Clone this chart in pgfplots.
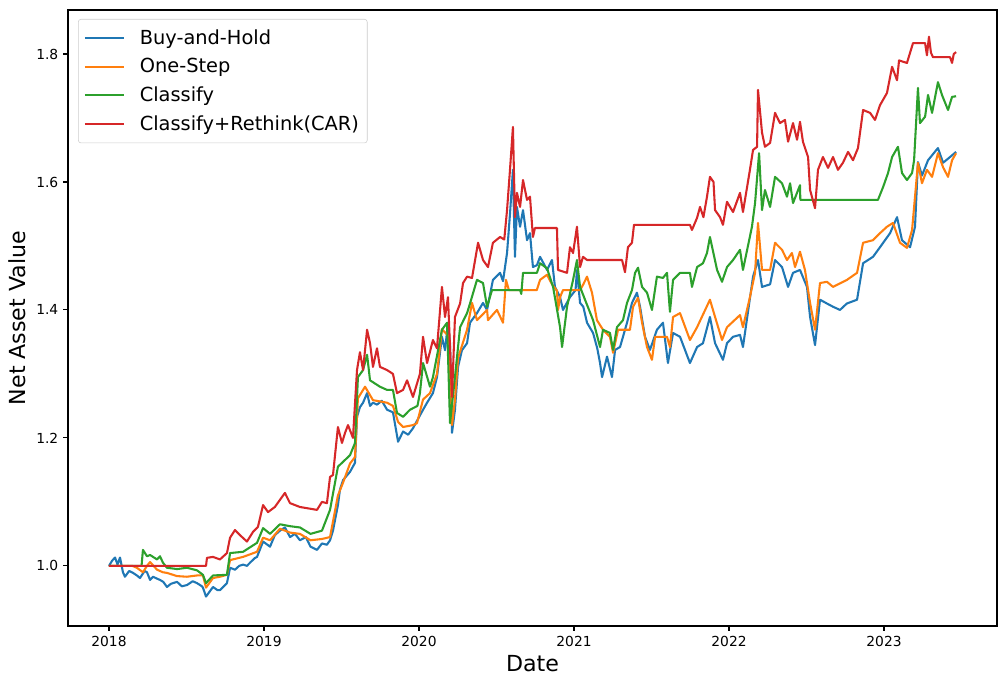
\documentclass[border=0pt]{standalone}
\usepackage{fontspec}
\setmainfont{DejaVu Sans}
\usepackage{pgfplots}
\pgfplotsset{compat=1.18}
\definecolor{c0}{HTML}{1F77B4}
\definecolor{c1}{HTML}{FF7F0E}
\definecolor{c2}{HTML}{2CA02C}
\definecolor{c3}{HTML}{D62728}
\begin{document}
\begin{tikzpicture}
\begin{axis}[
  scale only axis,
  width=9.29in, height=6.16in,
  xmin=2017.7355, xmax=2023.729,
  ymin=0.906, ymax=1.8688,
  xtick={2018,2019,2020,2021,2022,2023},
  ytick={1.0,1.2,1.4,1.6,1.8},
  /pgf/number format/assume math mode=true,
  xticklabel style={/pgf/number format/1000 sep={}, font=\fontsize{10}{12}\selectfont},
  yticklabel style={/pgf/number format/fixed, /pgf/number format/fixed zerofill, /pgf/number format/precision=1, font=\fontsize{10}{12}\selectfont},
  tick align=outside, tick pos=left,
  major tick length=3.5pt,
  axis line style={line width=0.8pt},
  every tick/.style={line width=0.8pt, black},
  xlabel={Date}, ylabel={Net Asset Value},
  label style={font=\fontsize{16}{19}\selectfont},
  xlabel style={yshift=0.5pt},
  ylabel style={yshift=1pt},
  legend style={at={(0.0108,0.9854)}, anchor=north west, draw=black!20, rounded corners=2pt, fill=white, fill opacity=0.8, text opacity=1, font=\fontsize{14}{17}\selectfont, row sep=4.7pt, inner xsep=4pt, inner ysep=5.5pt, /tikz/every odd column/.append style={column sep=8.5pt}},
  legend cell align=left,
  legend image code/.code={\draw[#1] (0cm,0cm) -- (1.0cm,0cm);},
  every axis plot/.append style={line width=1.5pt, line join=round},
]
\addplot[c0] coordinates {
(2018.000,1.000)(2018.020,1.008)(2018.039,1.013)(2018.055,1.002)(2018.071,1.013)(2018.090,0.990)(2018.103,0.983)(2018.130,0.992)(2018.155,0.989)(2018.180,0.985)(2018.200,0.981)(2018.230,0.992)(2018.245,0.990)(2018.265,0.978)(2018.284,0.983)(2018.310,0.980)(2018.329,0.978)(2018.350,0.975)(2018.374,0.967)(2018.400,0.972)(2018.439,0.975)(2018.470,0.968)(2018.503,0.970)(2018.540,0.976)(2018.568,0.973)(2018.600,0.968)(2018.606,0.966)(2018.626,0.952)(2018.650,0.960)(2018.671,0.967)(2018.700,0.962)(2018.716,0.962)(2018.740,0.968)(2018.761,0.973)(2018.781,0.997)(2018.813,0.994)(2018.840,1.000)(2018.865,1.002)(2018.890,1.000)(2018.910,1.005)(2018.940,1.012)(2018.955,1.014)(2018.994,1.038)(2019.039,1.030)(2019.070,1.048)(2019.103,1.055)(2019.135,1.060)(2019.168,1.045)(2019.200,1.050)(2019.232,1.040)(2019.270,1.045)(2019.300,1.030)(2019.342,1.025)(2019.374,1.035)(2019.406,1.033)(2019.426,1.040)(2019.445,1.055)(2019.477,1.095)(2019.490,1.119)(2019.510,1.134)(2019.555,1.147)(2019.587,1.161)(2019.600,1.233)(2019.619,1.248)(2019.639,1.255)(2019.665,1.270)(2019.684,1.250)(2019.703,1.255)(2019.729,1.252)(2019.760,1.258)(2019.794,1.244)(2019.832,1.240)(2019.865,1.194)(2019.897,1.210)(2019.930,1.205)(2019.961,1.215)(2019.990,1.228)(2020.026,1.244)(2020.052,1.255)(2020.090,1.270)(2020.116,1.295)(2020.148,1.358)(2020.168,1.337)(2020.187,1.380)(2020.200,1.348)(2020.213,1.208)(2020.232,1.244)(2020.252,1.311)(2020.277,1.337)(2020.310,1.348)(2020.329,1.380)(2020.374,1.395)(2020.413,1.411)(2020.439,1.400)(2020.477,1.447)(2020.523,1.458)(2020.542,1.445)(2020.568,1.489)(2020.587,1.550)(2020.606,1.619)(2020.619,1.483)(2020.632,1.561)(2020.652,1.530)(2020.671,1.556)(2020.697,1.509)(2020.716,1.520)(2020.735,1.467)(2020.761,1.470)(2020.781,1.483)(2020.826,1.4625)(2020.858,1.478)(2020.877,1.436)(2020.910,1.420)(2020.929,1.400)(2020.974,1.420)(2021.010,1.431)(2021.019,1.4625)(2021.039,1.411)(2021.060,1.405)(2021.084,1.380)(2021.123,1.364)(2021.150,1.340)(2021.168,1.317)(2021.181,1.295)(2021.213,1.327)(2021.245,1.295)(2021.265,1.3375)(2021.297,1.342)(2021.342,1.380)(2021.374,1.411)(2021.406,1.427)(2021.426,1.405)(2021.458,1.358)(2021.490,1.3375)(2021.535,1.369)(2021.574,1.380)(2021.606,1.317)(2021.639,1.364)(2021.684,1.358)(2021.748,1.317)(2021.794,1.342)(2021.832,1.348)(2021.877,1.389)(2021.910,1.348)(2021.961,1.322)(2021.987,1.348)(2022.026,1.358)(2022.071,1.361)(2022.090,1.342)(2022.155,1.452)(2022.187,1.478)(2022.213,1.436)(2022.265,1.440)(2022.297,1.478)(2022.342,1.467)(2022.381,1.436)(2022.413,1.458)(2022.458,1.4625)(2022.503,1.436)(2022.523,1.389)(2022.555,1.345)(2022.587,1.416)(2022.632,1.410)(2022.671,1.405)(2022.716,1.400)(2022.760,1.410)(2022.826,1.416)(2022.865,1.473)(2022.929,1.483)(2022.974,1.498)(2023.039,1.520)(2023.084,1.545)(2023.116,1.509)(2023.168,1.498)(2023.200,1.530)(2023.219,1.631)(2023.245,1.610)(2023.284,1.634)(2023.348,1.653)(2023.381,1.630)(2023.426,1.639)(2023.465,1.647)
};
\addlegendentry{Buy-and-Hold}
\addplot[c1] coordinates {
(2018.000,1.000)(2018.150,1.000)(2018.180,0.997)(2018.219,0.990)(2018.245,1.000)(2018.265,1.006)(2018.310,0.994)(2018.348,0.990)(2018.374,0.989)(2018.439,0.984)(2018.503,0.983)(2018.568,0.985)(2018.606,0.985)(2018.626,0.966)(2018.671,0.981)(2018.716,0.983)(2018.761,0.986)(2018.781,1.009)(2018.865,1.014)(2018.955,1.022)(2018.994,1.044)(2019.039,1.040)(2019.103,1.058)(2019.168,1.052)(2019.232,1.050)(2019.300,1.040)(2019.374,1.042)(2019.426,1.045)(2019.477,1.110)(2019.510,1.130)(2019.555,1.160)(2019.587,1.170)(2019.606,1.262)(2019.652,1.280)(2019.703,1.259)(2019.794,1.255)(2019.832,1.250)(2019.865,1.225)(2019.897,1.217)(2019.961,1.220)(2019.987,1.223)(2020.026,1.260)(2020.071,1.270)(2020.116,1.300)(2020.148,1.370)(2020.187,1.360)(2020.213,1.220)(2020.232,1.260)(2020.252,1.325)(2020.310,1.369)(2020.342,1.411)(2020.374,1.384)(2020.439,1.400)(2020.445,1.384)(2020.503,1.400)(2020.542,1.380)(2020.561,1.447)(2020.580,1.431)(2020.760,1.431)(2020.781,1.447)(2020.826,1.455)(2020.858,1.440)(2020.890,1.430)(2020.897,1.400)(2020.910,1.420)(2020.929,1.431)(2021.039,1.431)(2021.060,1.440)(2021.084,1.452)(2021.116,1.427)(2021.148,1.384)(2021.187,1.369)(2021.232,1.358)(2021.252,1.333)(2021.284,1.369)(2021.361,1.369)(2021.381,1.405)(2021.413,1.419)(2021.439,1.380)(2021.471,1.342)(2021.503,1.322)(2021.523,1.358)(2021.600,1.358)(2021.619,1.342)(2021.639,1.389)(2021.684,1.395)(2021.748,1.353)(2021.794,1.373)(2021.877,1.416)(2021.910,1.389)(2021.955,1.353)(2021.987,1.373)(2022.071,1.392)(2022.090,1.373)(2022.135,1.420)(2022.168,1.458)(2022.187,1.536)(2022.213,1.4625)(2022.265,1.4625)(2022.297,1.505)(2022.342,1.494)(2022.374,1.478)(2022.406,1.489)(2022.426,1.467)(2022.458,1.491)(2022.490,1.4625)(2022.523,1.411)(2022.555,1.369)(2022.587,1.442)(2022.632,1.444)(2022.671,1.436)(2022.761,1.447)(2022.826,1.458)(2022.865,1.505)(2022.929,1.509)(2022.974,1.520)(2023.019,1.530)(2023.058,1.536)(2023.103,1.505)(2023.148,1.497)(2023.181,1.525)(2023.200,1.577)(2023.219,1.630)(2023.245,1.598)(2023.277,1.619)(2023.310,1.608)(2023.348,1.645)(2023.381,1.623)(2023.413,1.608)(2023.439,1.634)(2023.465,1.645)
};
\addlegendentry{One-Step}
\addplot[c2] coordinates {
(2018.000,1.000)(2018.210,1.000)(2018.219,1.025)(2018.245,1.015)(2018.265,1.017)(2018.310,1.010)(2018.329,1.015)(2018.348,1.005)(2018.374,0.997)(2018.439,0.995)(2018.503,0.997)(2018.568,0.993)(2018.606,0.986)(2018.626,0.973)(2018.671,0.985)(2018.761,0.986)(2018.781,1.020)(2018.865,1.022)(2018.955,1.036)(2018.994,1.059)(2019.039,1.050)(2019.103,1.065)(2019.168,1.062)(2019.232,1.060)(2019.300,1.050)(2019.374,1.055)(2019.426,1.0875)(2019.477,1.155)(2019.555,1.173)(2019.587,1.192)(2019.606,1.295)(2019.639,1.306)(2019.665,1.330)(2019.684,1.290)(2019.748,1.280)(2019.794,1.275)(2019.832,1.275)(2019.858,1.239)(2019.897,1.233)(2019.942,1.244)(2019.990,1.250)(2020.006,1.270)(2020.026,1.317)(2020.071,1.280)(2020.090,1.295)(2020.148,1.369)(2020.181,1.380)(2020.200,1.223)(2020.232,1.295)(2020.265,1.373)(2020.310,1.395)(2020.329,1.410)(2020.374,1.447)(2020.413,1.442)(2020.439,1.405)(2020.471,1.431)(2020.652,1.431)(2020.660,1.425)(2020.671,1.458)(2020.761,1.458)(2020.781,1.473)(2020.826,1.465)(2020.865,1.436)(2020.910,1.373)(2020.923,1.342)(2020.955,1.405)(2020.994,1.447)(2021.019,1.478)(2021.039,1.436)(2021.071,1.416)(2021.123,1.384)(2021.168,1.342)(2021.187,1.369)(2021.232,1.364)(2021.252,1.3375)(2021.277,1.373)(2021.316,1.384)(2021.342,1.411)(2021.374,1.431)(2021.394,1.458)(2021.413,1.466)(2021.439,1.436)(2021.471,1.427)(2021.503,1.400)(2021.535,1.452)(2021.574,1.450)(2021.600,1.458)(2021.619,1.397)(2021.639,1.447)(2021.684,1.458)(2021.748,1.458)(2021.761,1.436)(2021.794,1.467)(2021.832,1.473)(2021.858,1.489)(2021.877,1.514)(2021.923,1.4625)(2021.955,1.444)(2021.987,1.467)(2022.026,1.478)(2022.071,1.494)(2022.090,1.4625)(2022.148,1.530)(2022.168,1.567)(2022.194,1.645)(2022.213,1.556)(2022.232,1.5875)(2022.265,1.561)(2022.297,1.608)(2022.342,1.598)(2022.374,1.577)(2022.394,1.598)(2022.413,1.567)(2022.458,1.595)(2022.460,1.572)(2022.961,1.572)(2022.994,1.592)(2023.026,1.614)(2023.052,1.639)(2023.090,1.655)(2023.116,1.614)(2023.148,1.603)(2023.181,1.614)(2023.194,1.634)(2023.219,1.747)(2023.232,1.692)(2023.265,1.702)(2023.284,1.736)(2023.310,1.708)(2023.348,1.756)(2023.374,1.736)(2023.413,1.7125)(2023.439,1.733)(2023.465,1.734)
};
\addlegendentry{Classify}
\addplot[c3] coordinates {
(2018.000,1.000)(2018.626,1.000)(2018.632,1.0125)(2018.671,1.014)(2018.716,1.010)(2018.761,1.020)(2018.781,1.044)(2018.813,1.056)(2018.845,1.048)(2018.890,1.038)(2018.929,1.053)(2018.961,1.061)(2018.994,1.095)(2019.026,1.084)(2019.070,1.092)(2019.135,1.114)(2019.168,1.098)(2019.232,1.092)(2019.342,1.0875)(2019.374,1.100)(2019.406,1.098)(2019.426,1.139)(2019.445,1.142)(2019.477,1.217)(2019.503,1.192)(2019.523,1.208)(2019.542,1.220)(2019.574,1.200)(2019.600,1.306)(2019.619,1.334)(2019.639,1.306)(2019.665,1.369)(2019.684,1.348)(2019.703,1.311)(2019.729,1.340)(2019.748,1.311)(2019.794,1.306)(2019.832,1.300)(2019.858,1.270)(2019.897,1.275)(2019.923,1.290)(2019.961,1.264)(2020.006,1.300)(2020.026,1.358)(2020.052,1.317)(2020.090,1.353)(2020.116,1.340)(2020.148,1.436)(2020.168,1.389)(2020.187,1.420)(2020.213,1.264)(2020.232,1.389)(2020.265,1.410)(2020.284,1.442)(2020.310,1.452)(2020.342,1.450)(2020.381,1.505)(2020.413,1.478)(2020.445,1.467)(2020.477,1.505)(2020.523,1.514)(2020.550,1.510)(2020.568,1.556)(2020.587,1.619)(2020.606,1.686)(2020.619,1.545)(2020.632,1.583)(2020.652,1.561)(2020.671,1.603)(2020.697,1.572)(2020.716,1.577)(2020.735,1.514)(2020.748,1.528)(2020.890,1.528)(2020.897,1.4625)(2020.955,1.458)(2020.974,1.498)(2020.994,1.489)(2021.019,1.530)(2021.039,1.467)(2021.058,1.483)(2021.084,1.478)(2021.310,1.478)(2021.329,1.459)(2021.348,1.498)(2021.374,1.505)(2021.387,1.533)(2021.748,1.533)(2021.761,1.525)(2021.794,1.544)(2021.813,1.561)(2021.835,1.545)(2021.858,1.577)(2021.877,1.608)(2021.900,1.600)(2021.910,1.556)(2021.942,1.545)(2021.961,1.533)(2021.987,1.569)(2022.026,1.553)(2022.071,1.583)(2022.090,1.553)(2022.135,1.619)(2022.155,1.650)(2022.181,1.655)(2022.187,1.744)(2022.213,1.677)(2022.232,1.655)(2022.265,1.661)(2022.297,1.708)(2022.329,1.692)(2022.361,1.697)(2022.381,1.663)(2022.413,1.692)(2022.439,1.666)(2022.458,1.694)(2022.477,1.663)(2022.510,1.639)(2022.523,1.5875)(2022.555,1.559)(2022.574,1.619)(2022.606,1.639)(2022.639,1.622)(2022.671,1.639)(2022.703,1.619)(2022.735,1.630)(2022.768,1.647)(2022.800,1.634)(2022.832,1.653)(2022.865,1.7125)(2022.910,1.708)(2022.942,1.697)(2022.974,1.720)(2023.019,1.739)(2023.052,1.780)(2023.084,1.759)(2023.097,1.790)(2023.148,1.786)(2023.187,1.817)(2023.265,1.817)(2023.277,1.798)(2023.290,1.827)(2023.303,1.802)(2023.316,1.795)(2023.426,1.795)(2023.439,1.786)(2023.450,1.800)(2023.465,1.803)
};
\addlegendentry{Classify+Rethink(CAR)}
\end{axis}
\pgfresetboundingbox
\path[use as bounding box] (-0.68in,-0.59in) rectangle (9.39in,6.26in);
\end{tikzpicture}
\end{document}
